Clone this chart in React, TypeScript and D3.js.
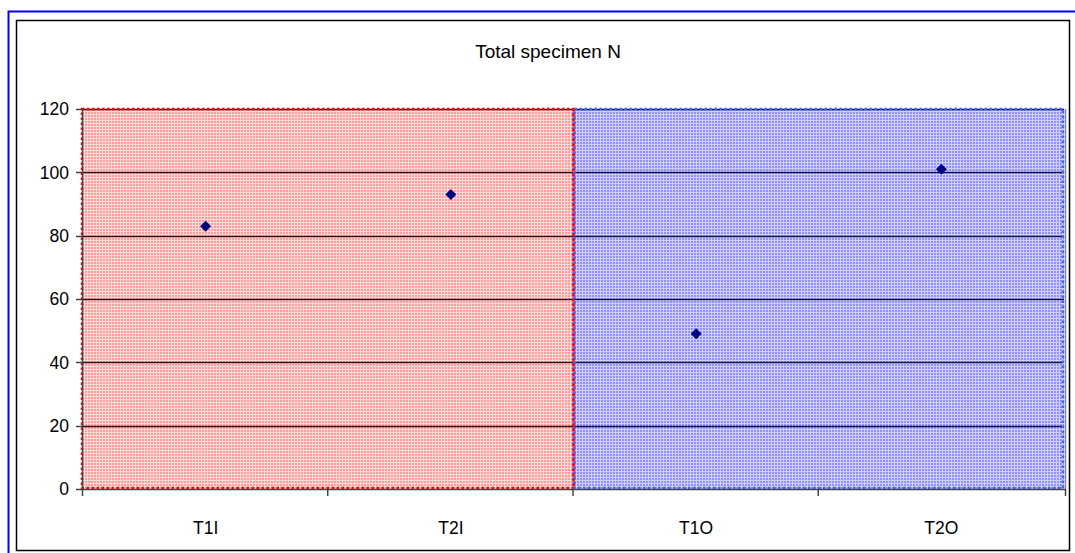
import React from "react";
import * as d3 from "d3";

const categories = ["T1I", "T2I", "T1O", "T2O"];
const values = [83, 93, 49, 101];
const yTicks = [0, 20, 40, 60, 80, 100, 120];
const regions = [
  { from: "T1I", to: "T2I", kind: "red" },
  { from: "T1O", to: "T2O", kind: "blue" },
];

export default function App() {
  const W = 1075;
  const H = 553;
  const left = 83;
  const right = 1064;
  const top = 109;
  const bottom = 489;
  const x = d3.scaleBand<string>().domain(categories).range([left, right]);
  const y = d3.scaleLinear().domain([0, 120]).range([bottom, top]);
  const font = "'Liberation Sans', Arial, sans-serif";
  const r0 = 5.5;
  const diamond = `M0,${-r0}L${r0},0L0,${r0}L${-r0},0Z`;

  return (
    <svg width={W} height={H} style={{ position: "absolute", left: 0, top: 0 }}>
      <defs>
        <pattern id="pRed" width="3" height="3" patternUnits="userSpaceOnUse">
          <rect width="3" height="3" fill="#ff9c9c" />
          <rect x="0" y="0" width="3" height="1" fill="#ffd8d8" />
          <rect x="0" y="0" width="1" height="3" fill="#ffd8d8" />
        </pattern>
        <pattern id="pBlue" width="3" height="3" patternUnits="userSpaceOnUse">
          <rect width="3" height="3" fill="#8f8fff" />
          <rect x="0" y="0" width="3" height="1" fill="#d0d0ff" />
          <rect x="0" y="0" width="1" height="3" fill="#d0d0ff" />
        </pattern>
      </defs>
      <rect x={0} y={0} width={W} height={H} fill="#fff" />
      <rect x={8.5} y={11.5} width={1080} height={560} fill="none" stroke="#0000ff" strokeWidth={2} />
      <rect x={16.5} y={20.5} width={1053} height={530} fill="#fff" stroke="#000" strokeWidth={1.5} />
      <text x={548} y={58} textAnchor="middle" fontFamily={font} fontSize={19} fill="#000">
        Total specimen N
      </text>
      {regions.map((r) => {
        const x0 = x(r.from)!;
        const x1 = x(r.to)! + x.bandwidth();
        return (
          <rect
            key={r.kind}
            x={x0}
            y={top}
            width={x1 - x0}
            height={bottom - top}
            fill={r.kind === "red" ? "url(#pRed)" : "url(#pBlue)"}
          />
        );
      })}
      {yTicks.slice(1).map((t) =>
        regions.map((r) => {
          const x0 = x(r.from)!;
          const x1 = x(r.to)! + x.bandwidth();
          return (
            <line
              key={t + r.kind}
              x1={x0}
              x2={x1}
              y1={Math.round(y(t)) + 0.5}
              y2={Math.round(y(t)) + 0.5}
              stroke={r.kind === "red" ? "#3a0a12" : "#10104a"}
              strokeWidth={1.5}
            />
          );
        })
      )}
      <line x1={right + 1.5} x2={right + 1.5} y1={top} y2={bottom} stroke="#888" strokeWidth={1.5} />
      {regions.map((r) => {
        const x0 = x(r.from)!;
        const x1 = x(r.to)! + x.bandwidth();
        const c = r.kind === "red" ? "#ff0000" : "#3a66ff";
        return (
          <rect
            key={"b" + r.kind}
            x={r.kind === "red" ? x0 - 1 : x0 + 1}
            y={top}
            width={r.kind === "red" ? x1 - x0 + 1 : x1 - x0 - 2}
            height={bottom - top - 1}
            fill="none"
            stroke={c}
            strokeWidth={2.5}
            strokeDasharray="2.5 2.5"
          />
        );
      })}
      <line
        x1={x("T1O")!}
        x2={x("T1O")!}
        y1={top}
        y2={bottom}
        stroke="#ff0000"
        strokeWidth={2.5}
        strokeDasharray="2.5 2.5"
      />
      <line x1={left - 0.5} x2={left - 0.5} y1={top} y2={bottom} stroke="#444" strokeWidth={1.5} />
      <line x1={left - 1} x2={right + 2} y1={bottom + 0.5} y2={bottom + 0.5} stroke="#444" strokeWidth={1.5} />
      {yTicks.map((t) => (
        <g key={t}>
          <line x1={left - 7} x2={left} y1={Math.round(y(t)) + 0.5} y2={Math.round(y(t)) + 0.5} stroke="#444" strokeWidth={1.5} />
          <text
            x={left - 14}
            y={y(t)}
            dy="0.36em"
            textAnchor="end"
            fontFamily={font}
            fontSize={17.5}
            fill="#000"
          >
            {t}
          </text>
        </g>
      ))}
      {categories.map((c) => (
        <line
          key={"t" + c}
          x1={x(c)! - 0.5}
          x2={x(c)! - 0.5}
          y1={bottom}
          y2={bottom + 7}
          stroke="#444"
          strokeWidth={1.5}
        />
      ))}
      <line x1={right + 1.5} x2={right + 1.5} y1={bottom} y2={bottom + 7} stroke="#444" strokeWidth={1.5} />
      {categories.map((c) => (
        <text
          key={"l" + c}
          x={x(c)! + x.bandwidth() / 2}
          y={528}
          dy="0.36em"
          textAnchor="middle"
          fontFamily={font}
          fontSize={17.5}
          fill="#000"
        >
          {c}
        </text>
      ))}
      {categories.map((c, i) => (
        <path
          key={"p" + c}
          d={diamond}
          transform={`translate(${x(c)! + x.bandwidth() / 2},${y(values[i])})`}
          fill="#000080"
        />
      ))}
    </svg>
  );
}
